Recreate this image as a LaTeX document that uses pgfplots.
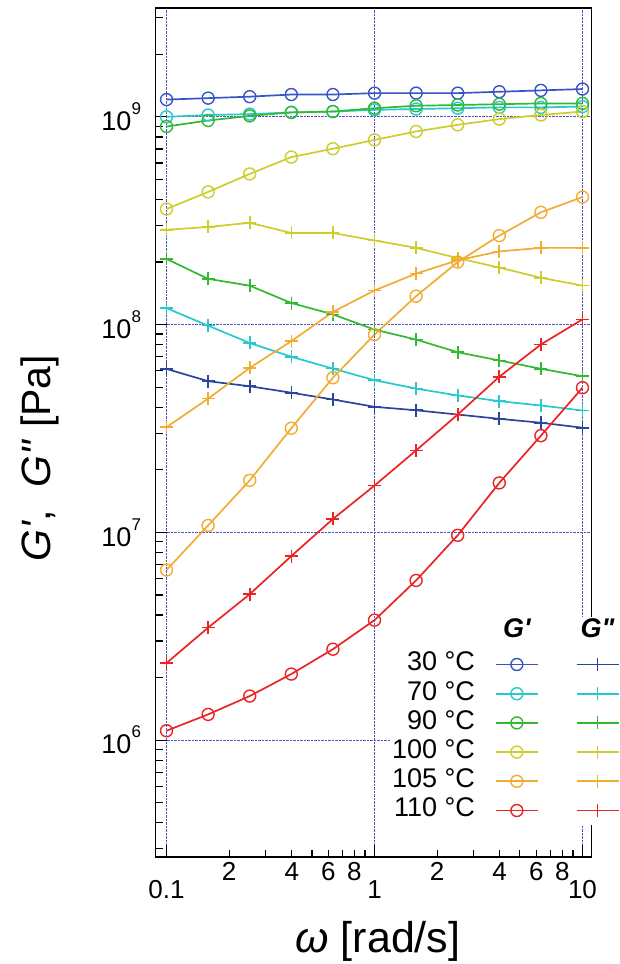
\documentclass[border=0pt]{standalone}
\usepackage{fontspec}
\setmainfont{Liberation Sans}
\usepackage{pgfplots}
\pgfplotsset{compat=1.18}
\usepackage{pgfplotstable}

\definecolor{c30}{RGB}{55,85,200}
\definecolor{c70}{RGB}{40,200,205}
\definecolor{c90}{RGB}{50,185,50}
\definecolor{c100}{RGB}{205,205,45}
\definecolor{c105}{RGB}{242,172,50}
\definecolor{c110}{RGB}{235,35,35}
\definecolor{gridblue}{RGB}{80,80,190}

% omega, G' and G'' for each temperature
\pgfplotstableread{
w      gp30   gpp30  gp70   gpp70  gp90   gpp90  gp100  gpp100 gp105  gpp105 gp110  gpp110
0.1    1.21e9 6.12e7 1.00e9 1.20e8 8.98e8 2.07e8 3.60e8 2.86e8 6.59e6 3.21e7 1.11e6 2.35e6
0.1585 1.23e9 5.34e7 1.02e9 9.88e7 9.60e8 1.66e8 4.35e8 2.95e8 1.08e7 4.40e7 1.33e6 3.48e6
0.2512 1.25e9 5.05e7 1.03e9 8.16e7 1.01e9 1.54e8 5.31e8 3.09e8 1.78e7 6.19e7 1.63e6 5.04e6
0.3981 1.28e9 4.70e7 1.05e9 7.00e7 1.05e9 1.27e8 6.40e8 2.76e8 3.17e7 8.32e7 2.08e6 7.69e6
0.631  1.28e9 4.36e7 1.06e9 6.14e7 1.06e9 1.12e8 7.02e8 2.76e8 5.55e7 1.15e8 2.74e6 1.16e7
1      1.30e9 4.02e7 1.08e9 5.40e7 1.10e9 9.46e7 7.74e8 2.54e8 8.95e7 1.46e8 3.78e6 1.68e7
1.585  1.30e9 3.87e7 1.09e9 4.92e7 1.13e9 8.47e7 8.50e8 2.34e8 1.37e8 1.76e8 5.87e6 2.48e7
2.512  1.30e9 3.69e7 1.10e9 4.56e7 1.14e9 7.36e7 9.15e8 2.09e8 2.00e8 2.04e8 9.68e6 3.69e7
3.981  1.32e9 3.52e7 1.11e9 4.28e7 1.15e9 6.72e7 9.75e8 1.88e8 2.68e8 2.25e8 1.73e7 5.61e7
6.31   1.34e9 3.37e7 1.11e9 4.08e7 1.16e9 6.13e7 1.02e9 1.68e8 3.47e8 2.34e8 2.92e7 8.02e7
10     1.36e9 3.19e7 1.12e9 3.86e7 1.16e9 5.64e7 1.06e9 1.54e8 4.11e8 2.34e8 4.97e7 1.06e8
}\moduli

\newcommand{\tp}[1]{10\raisebox{16pt}{\fontsize{17}{17}\selectfont #1}}

\pgfplotsset{
  gp/.style={mark=o, mark size=6pt, line width=1.7pt, mark options={line width=1.4pt},
    legend image code/.code={\path (0pt,0pt) (61pt,0pt);
      \draw[mark repeat=2,mark phase=2] plot coordinates {(19pt,0pt) (40pt,0pt) (61pt,0pt)};}},
  gpp/.style={mark=+, mark size=6.5pt, line width=1.7pt, mark options={line width=1.6pt},
    legend image code/.code={\path (0pt,0pt) (77pt,0pt);
      \draw[mark repeat=2,mark phase=2] plot coordinates {(35pt,0pt) (56pt,0pt) (77pt,0pt)};}},
}

\begin{document}
\begin{tikzpicture}
\begin{axis}[
    scale only axis,
    width=436pt, height=849pt,
    xmode=log, ymode=log,
    xmin=0.0885, xmax=11.05,
    ymin=2.74e5, ymax=3.34e9,
    axis line style={line width=1.4pt},
    every tick/.style={black, line width=1.2pt},
    tick align=inside,
    xtick pos=bottom, ytick pos=left,
    major tick length=12pt, minor tick length=7.5pt,
    xtick={0.1,1,10}, xticklabels={0.1,1,10},
    minor xtick={0.2,0.3,0.4,0.5,0.6,0.7,0.8,0.9,2,3,4,5,6,7,8,9},
    extra x ticks={0.2,0.4,0.6,0.8,2,4,6,8},
    extra x tick labels={2,4,6,8,2,4,6,8},
    extra x tick style={grid=none, major tick length=7.5pt,
      tick label style={font=\fontsize{17}{17}\selectfont, yshift=18pt}},
    xticklabel style={font=\fontsize{26}{26}\selectfont, yshift=-20pt},
    ytick={1e6,1e7,1e8,1e9},
    yticklabels={\tp{6},\tp{7},\tp{8},\tp{9}},
    minor ytick={3e5,4e5,5e5,6e5,7e5,8e5,9e5,2e6,3e6,4e6,5e6,6e6,7e6,8e6,9e6,
      2e7,3e7,4e7,5e7,6e7,7e7,8e7,9e7,2e8,3e8,4e8,5e8,6e8,7e8,8e8,9e8,2e9,3e9},
    yticklabel style={font=\fontsize{27}{27}\selectfont, xshift=-11pt},
    grid=major,
    major grid style={densely dotted, line width=0.9pt, gridblue},
    xlabel={\textit{ω} [rad/s]},
    xlabel style={font=\fontsize{43}{43}\selectfont, at={(axis description cs:0.51,-0.099)}, anchor=center},
    ylabel={\textit{G\textquotesingle},\ \ \textit{G\textquotedbl} [Pa]},
    ylabel style={font=\fontsize{41}{41}\selectfont, at={(axis description cs:-0.264,0.47)}, anchor=center},
    legend plot pos=right,
    legend columns=2,
    legend cell align=right,
    legend style={at={(1.064,0.283)}, anchor=north east, draw=none, fill=white,
      inner sep=0pt, outer sep=0pt,
      font=\fontsize{27}{30}\selectfont,
      nodes={inner sep=1pt, text height=20pt, text depth=7.2pt}},
]
\addlegendimage{black, legend image code/.code={\path (0pt,0pt) (61pt,0pt);
  \node[anchor=center, text=black, font=\fontsize{27}{27}\selectfont\bfseries\itshape] at (40pt,4pt) {G\textquotesingle};}}
\addlegendentry{}
\addlegendimage{black, legend image code/.code={\path (0pt,0pt) (77pt,0pt);
  \node[anchor=center, text=black, font=\fontsize{27}{27}\selectfont\bfseries\itshape] at (56pt,4pt) {G\textquotedbl};}}
\addlegendentry{}

\addplot[c30, gp] table[x=w, y=gp30] {\moduli};
\addlegendentry{30 °C}
\addplot[c30!80!black, gpp] table[x=w, y=gpp30] {\moduli};
\addlegendentry{}
\addplot[c70, gp] table[x=w, y=gp70] {\moduli};
\addlegendentry{70 °C}
\addplot[c70, gpp] table[x=w, y=gpp70] {\moduli};
\addlegendentry{}
\addplot[c90, gp] table[x=w, y=gp90] {\moduli};
\addlegendentry{90 °C}
\addplot[c90, gpp] table[x=w, y=gpp90] {\moduli};
\addlegendentry{}
\addplot[c100, gp] table[x=w, y=gp100] {\moduli};
\addlegendentry{100 °C}
\addplot[c100, gpp] table[x=w, y=gpp100] {\moduli};
\addlegendentry{}
\addplot[c105, gp] table[x=w, y=gp105] {\moduli};
\addlegendentry{105 °C}
\addplot[c105, gpp] table[x=w, y=gpp105] {\moduli};
\addlegendentry{}
\addplot[c110, gp] table[x=w, y=gp110] {\moduli};
\addlegendentry{110 °C}
\addplot[c110, gpp] table[x=w, y=gpp110] {\moduli};
\addlegendentry{}
\end{axis}
\pgfresetboundingbox
\path[use as bounding box] (-155.5pt,-107pt) rectangle (463.5pt,857pt);
\end{tikzpicture}
\end{document}
